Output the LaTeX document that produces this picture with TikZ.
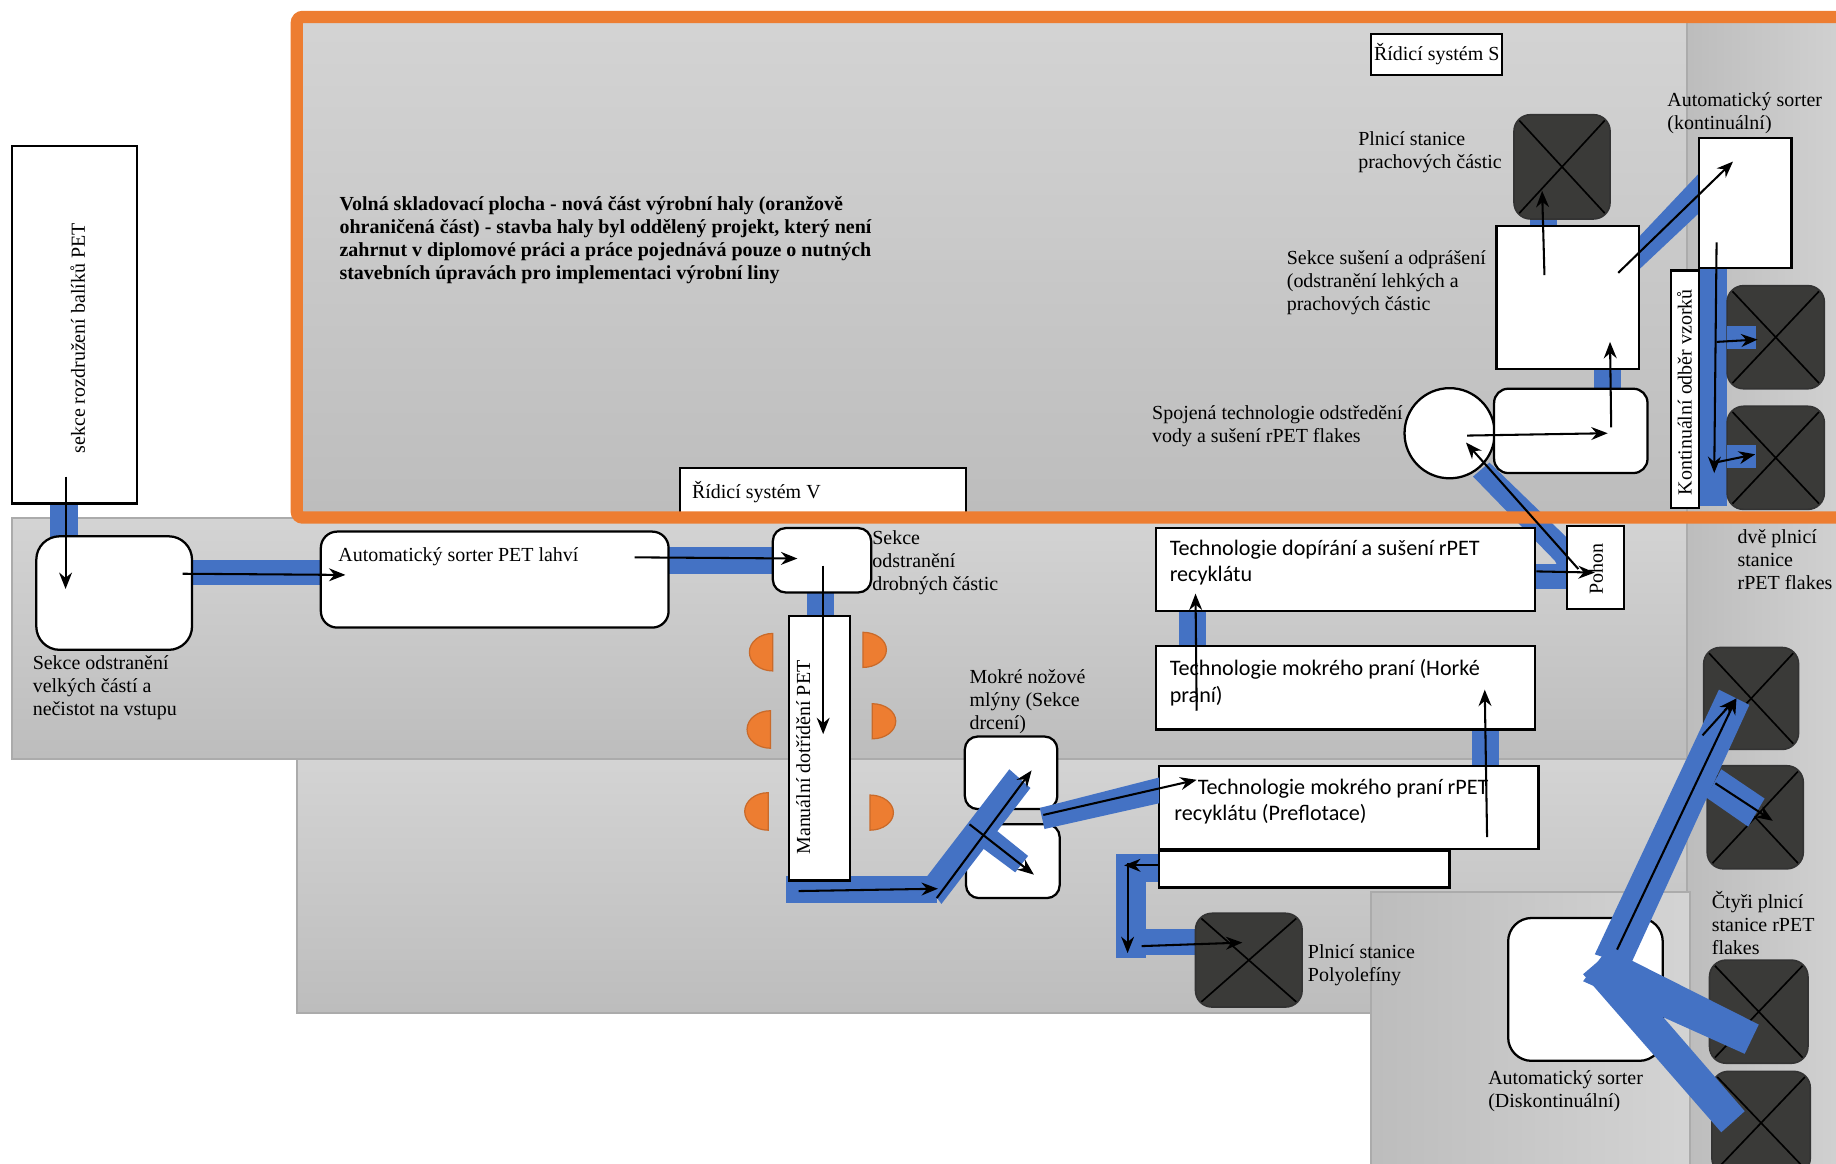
\documentclass[tikz,border=0pt]{standalone}
\usepackage{fontspec}
\setmainfont{Liberation Serif}
\setsansfont{Carlito}
\usetikzlibrary{arrows.meta, positioning}
\definecolor{beltblue}{HTML}{4472C4}
\definecolor{frameorange}{HTML}{ED7D31}
\definecolor{hopper}{HTML}{3A3A38}

\begin{document}
\begin{tikzpicture}[x=1cm, y=-1cm,
  hall/.style={draw=black!33, line width=0.5pt, top color=black!17, bottom color=black!26},
  hallside/.style={draw=black!33, line width=0.5pt, left color=black!26, right color=black!17},
  box/.style={rectangle, draw=black, line width=0.55pt, fill=white, inner sep=0pt, outer sep=0pt, font=\fontsize{4.85}{5.6}\selectfont},
  rbox/.style={box, rounded corners=2mm},
  hopperbox/.style={rectangle, rounded corners=1.4mm, draw=black!80, fill=hopper, inner sep=0pt,
    path picture={\draw[black, line width=0.4pt] (path picture bounding box.north west) -- (path picture bounding box.south east)
      (path picture bounding box.south west) -- (path picture bounding box.north east);}},
  lbl/.style={inner sep=0pt, outer sep=0pt, anchor=north west, align=left, yshift=-0.2mm, font=\fontsize{4.85}{5.6}\selectfont},
  sanslbl/.style={lbl, yshift=-0.1mm, font=\sffamily\fontsize{5.38}{6.5}\selectfont},
  belt/.style={fill=beltblue},
  seat/.style={fill=frameorange, draw=frameorange!85!black, line width=0.3pt},
  arr/.style={-{Stealth[length=1.4mm, width=1.1mm]}, black, line width=0.5pt}
]
  \useasboundingbox (0,0) rectangle (15.68,9.94);
  \clip (0,0) rectangle (15.68,9.94);
  % halls
  \path[hall] (2.53,0.14) rectangle (15.9,4.42);
  \path[hall] (0.10,4.42) rectangle (14.41,6.48);
  \path[hall] (2.54,6.48) rectangle (14.41,8.65);
  \path[hallside] (14.41,0.14) rectangle (15.9,10.1);
  \path[hallside] (11.71,7.62) rectangle (14.43,10.1);

  % belts under the machines
  \fill[belt] (0.43,4.25) rectangle (0.67,4.62);
  \fill[belt] (1.60,4.78) rectangle (2.78,5.00);
  \fill[belt] (5.68,4.67) rectangle (6.64,4.90);
  \fill[belt] (6.89,5.02) rectangle (7.12,5.30);
  \fill[belt] (6.71,7.48) rectangle (8.00,7.71);
  \fill[belt] (12.57,6.20) rectangle (12.80,6.58);
  \fill[belt] (10.07,5.18) rectangle (10.30,5.56);
  \fill[belt] (9.53,7.29) rectangle (9.94,7.53);
  \fill[belt] (9.53,7.29) rectangle (9.79,8.18);
  \fill[belt] (9.53,7.93) rectangle (10.25,8.16);
  \fill[belt] (13.61,3.12) rectangle (13.84,3.36);
  \fill[belt] (13.07,1.84) rectangle (13.30,1.97);
  \fill[belt] (14.00,2.02) -- (14.51,1.48) -- (14.51,1.82) -- (14.00,2.30) -- cycle;
  \fill[belt] (12.72,3.95) -- (13.38,4.59) -- (13.38,5.00) -- (13.28,4.79) -- (12.58,4.07) -- cycle;
  \fill[belt] (13.08,4.82) rectangle (13.40,5.03);
  \fill[belt] (14.51,2.29) rectangle (14.75,4.32);

  % machines
  \node[box, minimum width=1.07cm, minimum height=3.05cm] (bales) at (0.635,2.775) {};
  \node[lbl, anchor=center, rotate=90] (balestxt) at (0.665,2.87) {sekce rozdružení balíků PET};
  \node[rbox, minimum width=1.33cm, minimum height=0.97cm] (coarse) at (0.975,5.065) {};
  \node[rbox, rounded corners=1.4mm, minimum width=2.97cm, minimum height=0.82cm] (sorterpet) at (4.225,4.95) {};
  \node[rbox, rounded corners=1.1mm, minimum width=0.84cm, minimum height=0.55cm] (fines) at (7.02,4.785) {};
  \node[box, minimum width=0.52cm, minimum height=2.26cm] (manual) at (7.00,6.39) {};
  \node[lbl, anchor=center, rotate=90] (manualtxt) at (6.86,6.45) {Manuální dotřídění PET};
  \node[rbox, rounded corners=1.1mm, minimum width=0.79cm, minimum height=0.62cm] (milla) at (8.635,6.60) {};
  \node[rbox, rounded corners=1.1mm, minimum width=0.80cm, minimum height=0.63cm] (millb) at (8.65,7.355) {};
  \node[box, minimum width=3.24cm, minimum height=0.71cm] (rinse) at (11.49,4.865) {};
  \node[box, minimum width=3.24cm, minimum height=0.71cm] (hotwash) at (11.49,5.875) {};
  \node[box, minimum width=2.48cm, minimum height=0.31cm] (sink) at (11.14,7.425) {};
  \node[box, minimum width=3.24cm, minimum height=0.71cm] (prewash) at (11.52,6.895) {};
  \node[box, minimum width=0.49cm, minimum height=0.71cm] (drive) at (13.625,4.845) {};
  \node[lbl, anchor=center, rotate=90] (drivetxt) at (13.63,4.84) {Pohon};
  \node[box, minimum width=2.44cm, minimum height=0.40cm] (ctrlv) at (7.03,4.20) {};
  \node[box, minimum width=1.12cm, minimum height=0.35cm] (ctrls) at (12.27,0.465) {Řídicí systém S};
  \node[box, minimum width=0.79cm, minimum height=1.11cm] (sorterc) at (14.905,1.735) {};
  \node[box, minimum width=1.22cm, minimum height=1.22cm] (dryer) at (13.39,2.54) {};
  \node[hopperbox, minimum width=0.82cm, minimum height=0.89cm] (dusthop) at (13.34,1.425) {};
  \node[hopperbox, minimum width=0.83cm, minimum height=0.88cm] (hopa) at (15.165,2.88) {};
  \node[hopperbox, minimum width=0.83cm, minimum height=0.88cm] (hopb) at (15.165,3.91) {};
  \node[box, circle, minimum size=0.77cm] (spin) at (12.38,3.70) {};
  \node[rbox, rounded corners=1.2mm, minimum width=1.31cm, minimum height=0.72cm] (spindry) at (13.415,3.68) {};
  \node[box, minimum width=0.24cm, minimum height=2.03cm] (sampling) at (14.39,3.325) {};
  \node[lbl, anchor=center, rotate=90] (samplingtxt) at (14.385,3.33) {Kontinuální odběr vzorků};
  \node[hopperbox, minimum width=0.81cm, minimum height=0.87cm] (hopc) at (14.955,5.965) {};
  \node[hopperbox, minimum width=0.82cm, minimum height=0.88cm] (hopd) at (14.99,6.98) {};
  \node[hopperbox, minimum width=0.84cm, minimum height=0.88cm] (hope) at (15.02,8.64) {};
  \node[hopperbox, minimum width=0.84cm, minimum height=0.88cm] (hopf) at (15.04,9.59) {};
  \node[rbox, minimum width=1.32cm, minimum height=1.22cm] (sorterd) at (13.54,8.45) {};
  \node[hopperbox, minimum width=0.91cm, minimum height=0.80cm] (polyhop) at (10.665,8.20) {};

  % belts over the machines
  \fill[belt] (14.75,2.78) rectangle (15.00,2.98);
  \fill[belt] (14.75,3.80) rectangle (15.00,4.00);
  \fill[belt] (8.62,6.57) -- (8.80,6.73) -- (8.04,7.72) -- (7.89,7.52) -- cycle;
  \fill[belt] (8.42,7.02) -- (8.78,7.31) -- (8.67,7.45) -- (8.28,7.16) -- cycle;
  \fill[belt] (8.88,6.90) -- (9.90,6.64) -- (9.90,6.86) -- (8.92,7.08) -- cycle;
  \fill[belt] (14.68,5.89) -- (14.94,6.02) -- (13.92,8.25) -- (13.62,8.15) -- cycle;
  \fill[belt] (14.70,6.57) -- (15.07,6.82) -- (14.93,7.06) -- (14.57,6.81) -- cycle;
  \fill[belt] (13.73,8.10) -- (15.02,8.75) -- (14.90,9.00) -- (13.52,8.38) -- cycle;
  \fill[belt] (13.73,8.14) -- (14.90,9.49) -- (14.70,9.67) -- (13.52,8.32) -- cycle;

  % frame of the new hall part
  \draw[frameorange, line width=0.105cm, rounded corners=0.5mm] (16.2,0.145) -- (2.535,0.145) -- (2.535,4.42) -- (16.2,4.42);

  % texts
  \node[lbl] (ctrlvtxt) at (5.91,4.09) {Řídicí systém V};
  \node[lbl, font=\bfseries\fontsize{4.85}{5.55}\selectfont] (note) at (2.90,1.66) {Volná skladovací plocha - nová část výrobní haly (oranžově\\ohraničená část) - stavba haly byl oddělený projekt, který není\\zahrnut v diplomové práci a práce pojednává pouze o nutných\\stavebních úpravách pro implementaci výrobní liny};
  \node[lbl] (coarsetxt) at (0.28,5.58) {Sekce odstranění\\velkých částí a\\nečistot na vstupu};
  \node[lbl] (sorterpettxt) at (2.89,4.66) {Automatický sorter PET lahví};
  \node[lbl] (finestxt) at (7.45,4.51) {Sekce\\odstranění\\drobných částic};
  \node[lbl] (milltxt) at (8.28,5.70) {Mokré nožové\\mlýny (Sekce\\drcení)};
  \node[sanslbl] (rinsetxt) at (9.99,4.58) {Technologie dopírání a sušení rPET\\recyklátu};
  \node[sanslbl] (hotwashtxt) at (9.99,5.60) {Technologie mokrého praní (Horké\\praní)};
  \node[sanslbl] (prewashtxt) at (10.03,6.62) {\hspace{0.2cm}Technologie mokrého praní rPET\\recyklátu (Preflotace)};
  \node[lbl] (polytxt) at (11.17,8.05) {Plnicí stanice\\Polyolefíny};
  \node[lbl] (sorterdtxt) at (12.71,9.12) {Automatický sorter\\(Diskontinuální)};
  \node[lbl] (fourtxt) at (14.62,7.59) {Čtyři plnicí\\stanice rPET\\flakes};
  \node[lbl] (twotxt) at (14.84,4.50) {dvě plnicí\\stanice\\rPET flakes};
  \node[lbl] (spintxt) at (9.84,3.44) {Spojená technologie odstředění\\vody a sušení rPET flakes};
  \node[lbl] (dryertxt) at (10.99,2.12) {Sekce sušení a odprášení\\(odstranění lehkých a\\prachových částic};
  \node[lbl] (dusttxt) at (11.60,1.10) {Plnicí stanice\\prachových částic};
  \node[lbl] (sorterctxt) at (14.24,0.77) {Automatický sorter\\(kontinuální)};

  % orange half seats
  \foreach \sx/\sy in {6.60/5.57, 6.58/6.23, 6.56/6.93}
    \path[seat] (\sx,\sy-0.16) arc[start angle=90, end angle=270, x radius=0.2cm, y radius=0.16cm] -- cycle;
  \foreach \sx/\sy in {7.37/5.55, 7.45/6.16, 7.43/6.94}
    \path[seat] (\sx,\sy-0.15) arc[start angle=90, end angle=-90, x radius=0.2cm, y radius=0.15cm] -- cycle;

  % flow
  \coordinate (a1) at (0.56,4.07);   \coordinate (b1) at (0.56,5.03);   \draw[arr] (a1) -- (b1);
  \coordinate (a2) at (1.56,4.90);   \coordinate (b2) at (2.95,4.91);   \draw[arr] (a2) -- (b2);
  \coordinate (a3) at (5.42,4.76);   \coordinate (b3) at (6.81,4.77);   \draw[arr] (a3) -- (b3);
  \coordinate (a4) at (7.03,4.83);   \coordinate (b4) at (7.03,6.27);   \draw[arr] (a4) -- (b4);
  \coordinate (a5) at (6.82,7.61);   \coordinate (b5) at (8.01,7.59);   \draw[arr] (a5) -- (b5);
  \coordinate (a6) at (8.00,7.67);   \coordinate (b6) at (8.81,6.58);   \draw[arr] (a6) -- (b6);
  \coordinate (a7) at (8.28,7.04);   \coordinate (b7) at (8.83,7.47);   \draw[arr] (a7) -- (b7);
  \coordinate (a8) at (8.91,6.96);   \coordinate (b8) at (10.22,6.66);  \draw[arr] (a8) -- (b8);
  \coordinate (a9) at (12.70,7.15);  \coordinate (b9) at (12.68,5.89);  \draw[arr] (a9) -- (b9);
  \coordinate (a10) at (10.22,6.07); \coordinate (b10) at (10.21,5.07); \draw[arr] (a10) -- (b10);
  \coordinate (a11) at (13.12,4.88); \coordinate (b11) at (13.62,4.89); \draw[arr] (a11) -- (b11);
  \coordinate (a12) at (13.48,4.86); \coordinate (b12) at (12.52,3.78); \draw[arr] (a12) -- (b12);
  \coordinate (a13) at (12.53,3.72); \coordinate (b13) at (13.73,3.70); \draw[arr] (a13) -- (b13);
  \coordinate (a14) at (13.76,3.65); \coordinate (b14) at (13.75,2.92); \draw[arr] (a14) -- (b14);
  \coordinate (a15) at (13.19,2.35); \coordinate (b15) at (13.17,1.63); \draw[arr] (a15) -- (b15);
  \coordinate (a16) at (13.82,2.33); \coordinate (b16) at (14.80,1.38); \draw[arr] (a16) -- (b16);
  \coordinate (a17) at (14.66,2.07); \coordinate (b17) at (14.64,4.04); \draw[arr] (a17) -- (b17);
  \coordinate (a18) at (14.66,2.92); \coordinate (b18) at (15.01,2.90); \draw[arr] (a18) -- (b18);
  \coordinate (a19) at (14.65,3.95); \coordinate (b19) at (14.99,3.88); \draw[arr] (a19) -- (b19);
  \coordinate (a20) at (9.90,7.39);  \coordinate (b20) at (9.60,7.39);  \draw[arr] (a20) -- (b20);
  \coordinate (a21) at (9.63,7.37);  \coordinate (b21) at (9.63,8.14);  \draw[arr] (a21) -- (b21);
  \coordinate (a22) at (9.75,8.08);  \coordinate (b22) at (10.61,8.05); \draw[arr] (a22) -- (b22);
  \coordinate (a23) at (13.81,8.11); \coordinate (b23) at (14.83,5.96); \draw[arr] (a23) -- (b23);
  \coordinate (a24) at (14.54,6.28); \coordinate (b24) at (14.82,5.97); \draw[arr] (a24) -- (b24);
  \coordinate (a25) at (14.65,6.69); \coordinate (b25) at (15.14,7.01); \draw[arr] (a25) -- (b25);
\end{tikzpicture}
\end{document}
